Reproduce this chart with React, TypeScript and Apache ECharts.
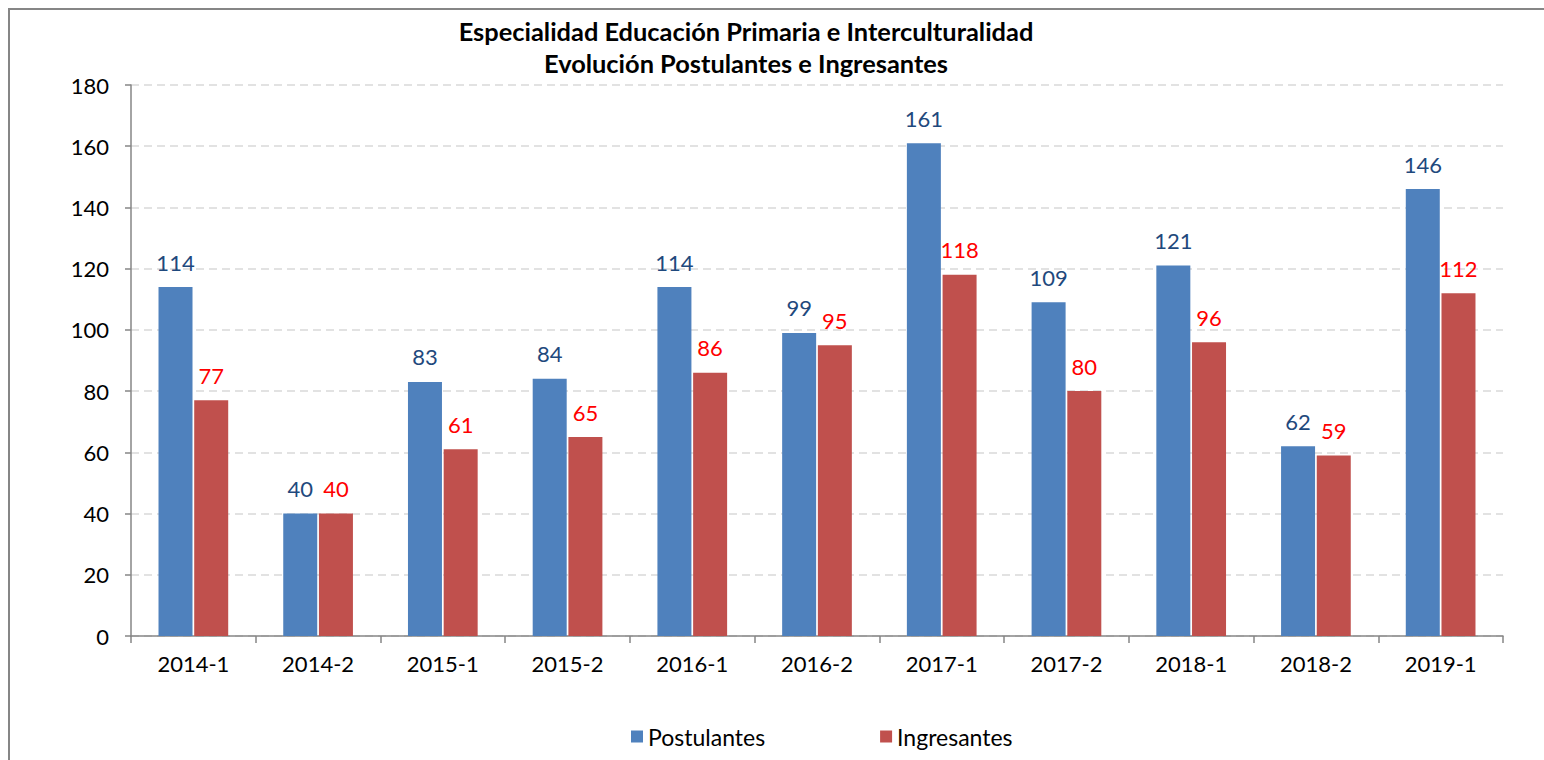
import React, { useEffect, useRef } from "react";
import * as echarts from "echarts";

const categories = ["2014-1", "2014-2", "2015-1", "2015-2", "2016-1", "2016-2", "2017-1", "2017-2", "2018-1", "2018-2", "2019-1"];
const postulantes = [114, 40, 83, 84, 114, 99, 161, 109, 121, 62, 146];
const ingresantes = [77, 40, 61, 65, 86, 95, 118, 80, 96, 59, 112];
const titleLine1 = "Especialidad Educación Primaria e Interculturalidad";
const titleLine2 = "Evolución Postulantes e Ingresantes";
const seriesNames = ["Postulantes", "Ingresantes"];

const FONT = "Lato";

export default function App() {
  const ref = useRef<HTMLDivElement>(null);
  useEffect(() => {
    if (!ref.current) return;
    const chart = echarts.init(ref.current, undefined, { renderer: "svg" });
    chart.setOption({
      animation: false,
      backgroundColor: "#ffffff",
      textStyle: { fontFamily: FONT },
      graphic: [
        {
          type: "rect",
          shape: { x: 9, y: 9, width: 1700, height: 900 },
          style: { fill: "none", stroke: "#868686", lineWidth: 2 },
          silent: true,
        },
        {
          type: "text",
          x: 746,
          y: 31,
          style: { text: titleLine1, fontFamily: FONT, fontWeight: "bold", fontSize: 25.4, fill: "#000", textAlign: "center", textVerticalAlign: "middle" },
        },
        {
          type: "text",
          x: 746,
          y: 63,
          style: { text: titleLine2, fontFamily: FONT, fontWeight: "bold", fontSize: 25.4, fill: "#000", textAlign: "center", textVerticalAlign: "middle" },
        },
      ],
      legend: {
        left: 626,
        top: 720,
        itemWidth: 12,
        itemHeight: 12,
        itemGap: 115,
        icon: "rect",
        textStyle: { fontFamily: FONT, fontSize: 23, color: "#000" },
        data: seriesNames,
      },
      grid: { left: 131, right: 41, top: 85, bottom: 124, containLabel: false },
      xAxis: {
        type: "category",
        data: categories,
        axisLine: { lineStyle: { color: "#868686", width: 1.5 } },
        axisTick: { show: true, length: 7, lineStyle: { color: "#868686", width: 1.5 } },
        axisLabel: { fontFamily: FONT, fontSize: 22, color: "#000", margin: 16 },
      },
      yAxis: {
        type: "value",
        min: 0,
        max: 180,
        interval: 20,
        axisLine: { show: true, lineStyle: { color: "#868686", width: 1.5 } },
        axisTick: { show: true, length: 6, lineStyle: { color: "#868686", width: 1.5 } },
        axisLabel: { fontFamily: FONT, fontSize: 22, color: "#000", margin: 22 },
        splitLine: { lineStyle: { color: "#d9d9d9", type: [8, 5], width: 1.5 } },
      },
      series: [
        {
          name: seriesNames[0],
          type: "bar",
          data: postulantes,
          barWidth: 34,
          barGap: "5%",
          itemStyle: { color: "#4F81BD" },
          label: { show: true, position: "top", distance: 14, fontFamily: FONT, fontSize: 22, color: "#1F497D" },
        },
        {
          name: seriesNames[1],
          type: "bar",
          data: ingresantes,
          barWidth: 34,
          barGap: "5%",
          itemStyle: { color: "#C0504D" },
          label: { show: true, position: "top", distance: 14, fontFamily: FONT, fontSize: 22, color: "#FF0000" },
        },
      ],
    });
    return () => chart.dispose();
  }, []);
  return <div ref={ref} style={{ position: "fixed", left: 0, top: 0, width: 1544, height: 760 }} />;
}
